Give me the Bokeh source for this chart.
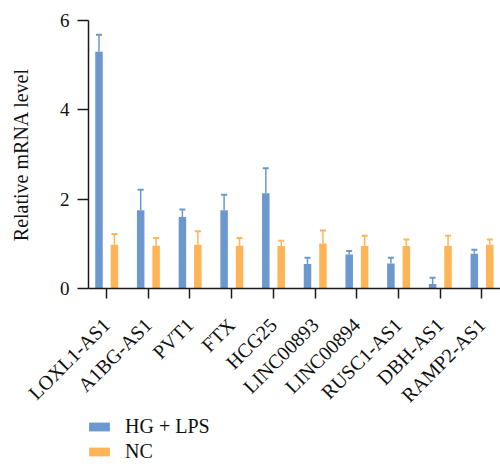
from bokeh.plotting import figure
from bokeh.models import (ColumnDataSource, FixedTicker, Legend, LegendItem, Range1d,
                          Whisker, TeeHead, LinearAxis, Label)
from bokeh.embed import file_html
from bokeh.resources import INLINE
import math

genes = ["LOXL1-AS1", "A1BG-AS1", "PVT1", "FTX", "HCG25", "LINC00893",
         "LINC00894", "RUSC1-AS1", "DBH-AS1", "RAMP2-AS1"]
hg_lps = [5.30, 1.75, 1.60, 1.75, 2.13, 0.55, 0.76, 0.56, 0.10, 0.78]
hg_lps_err = [0.38, 0.46, 0.17, 0.35, 0.56, 0.14, 0.08, 0.13, 0.14, 0.09]
nc = [0.98, 0.96, 0.98, 0.96, 0.95, 1.01, 0.95, 0.95, 0.95, 0.98]
nc_err = [0.24, 0.17, 0.30, 0.17, 0.12, 0.29, 0.23, 0.15, 0.23, 0.12]
y_ticks = [0, 2, 4, 6]
series_names = ["HG + LPS", "NC"]
y_title = "Relative mRNA level"

BLUE = "#6a98cf"
ORANGE = "#ffb456"
FONT = "Liberation Serif"

idx = list(range(len(genes)))
off_b, off_o, bw = -0.18, 0.19, 0.18
y_axis_at = -0.432   # y axis sits a little left of the first category

src_b = ColumnDataSource(dict(x=[i + off_b for i in idx], top=hg_lps,
                              up=[v + e for v, e in zip(hg_lps, hg_lps_err)]))
src_o = ColumnDataSource(dict(x=[i + off_o for i in idx], top=nc,
                              up=[v + e for v, e in zip(nc, nc_err)]))

# frame spans the whole page; value 0 sits at 288 px, 6 at 20 px
p = figure(width=500, height=464, output_backend="svg", toolbar_location=None,
           x_range=Range1d(-2.542, 9.448), y_range=Range1d(-3.94, 6.448),
           x_axis_location=None, y_axis_location=None,
           min_border_left=0, min_border_right=0, min_border_top=0,
           min_border_bottom=0)
p.outline_line_color = None
p.xgrid.visible = False
p.ygrid.visible = False
p.background_fill_color = "white"
p.border_fill_color = "white"

rb = p.vbar(x="x", top="top", bottom=0, width=bw, source=src_b,
            fill_color=BLUE, line_color=None)
ro = p.vbar(x="x", top="top", bottom=0, width=bw, source=src_o,
            fill_color=ORANGE, line_color=None)

for src, col in ((src_b, BLUE), (src_o, ORANGE)):
    w = Whisker(base="x", lower="top", upper="up", source=src, dimension="height",
                line_color=col, line_width=1.5, lower_head=None,
                upper_head=TeeHead(size=6, line_color=col, line_width=2))
    p.add_layout(w)

yax = LinearAxis(ticker=FixedTicker(ticks=y_ticks), bounds=(min(y_ticks), max(y_ticks)),
                 fixed_location=y_axis_at)
xax = LinearAxis(ticker=FixedTicker(ticks=idx), fixed_location=0,
                 bounds=(y_axis_at, 9.448))
p.add_layout(yax, "left")
p.add_layout(xax, "below")

for ax in (xax, yax):
    ax.axis_line_color = "#1a1a1a"
    ax.axis_line_width = 1.5
    ax.major_tick_line_color = "#1a1a1a"
    ax.major_tick_line_width = 1.5
    ax.major_tick_in = 0
    ax.minor_tick_line_color = None
    ax.major_label_text_font = FONT
    ax.major_label_text_font_size = "19px"
    ax.major_label_text_color = "#111111"

yax.major_tick_out = 11
yax.major_label_standoff = 8

xax.major_label_overrides = {i: g for i, g in zip(idx, genes)}
xax.major_tick_out = 10
xax.major_label_orientation = math.pi / 4
xax.major_label_text_font_size = "20px"
xax.major_label_standoff = 23

p.add_layout(Label(x=20, y=(min(y_ticks) + max(y_ticks)) / 2, x_units="screen",
                   text=y_title, angle=math.pi / 2, text_align="center",
                   text_baseline="middle", text_font=FONT, text_font_size="20px",
                   text_color="#111111"))

legend = Legend(items=[LegendItem(label=series_names[0], renderers=[rb]),
                       LegendItem(label=series_names[1], renderers=[ro])],
                location=(86, 1), orientation="vertical",
                glyph_width=26, glyph_height=11, label_text_font=FONT,
                label_text_font_size="20px", label_text_color="#111111",
                label_standoff=13, spacing=2, padding=0, margin=0,
                border_line_color=None, background_fill_alpha=0)
p.add_layout(legend, "center")

open("out.html", "w").write(file_html(p, INLINE))
